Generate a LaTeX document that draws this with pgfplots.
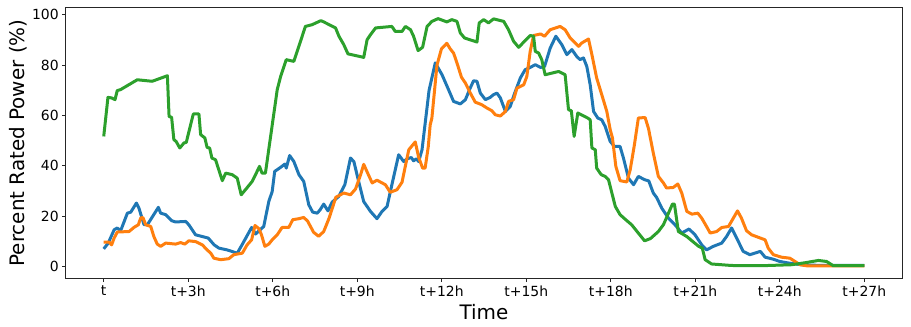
\documentclass[border=0pt]{standalone}
\usepackage{fontspec}
\setmainfont{DejaVu Sans}
\usepackage{pgfplots}
\pgfplotsset{compat=1.18}
\definecolor{tabblue}{HTML}{1F77B4}
\definecolor{taborange}{HTML}{FF7F0E}
\definecolor{tabgreen}{HTML}{2CA02C}
\begin{document}
\begin{tikzpicture}
\begin{axis}[
  scale only axis, width=836.6bp, height=271.4bp,
  xmin=-1.35, xmax=28.35, ymin=-4.85, ymax=103,
  xtick={0,3,6,9,12,15,18,21,24,27},
  xticklabels={t,t+3h,t+6h,t+9h,t+12h,t+15h,t+18h,t+21h,t+24h,t+27h},
  ytick={0,20,40,60,80,100},
  tick pos=left, tick align=outside, major tick length=3.5bp,
  /pgf/number format/assume math mode=true,
  tick label style={font=\fontsize{14}{16}\selectfont, text=black},
  label style={font=\fontsize{20}{24}\selectfont},
  xlabel={Time}, ylabel={Percent Rated Power (\%)},
  xlabel style={at={(axis description cs:0.5,-0.123)},anchor=center},
  ylabel style={at={(axis description cs:-0.057,0.5)},anchor=center},
  axis line style={black!85, line width=0.8bp},
  every tick/.style={black!85, line width=0.8bp},
  every axis plot/.append style={line width=3bp, mark=none, line join=round},
]
\addplot[tabblue] coordinates {
(0,7.0)(0.16,9.3)(0.37,14.6)(0.48,15.3)(0.60,14.2)(0.84,21.2)(0.96,21.6)(1.16,25.2)(1.25,23.2)(1.43,16.6)(1.55,16.6)(1.94,23.5)(2.02,21.2)(2.20,20.6)(2.41,18.2)(2.55,17.7)(2.91,17.9)(3.02,16.6)(3.26,12.6)(3.50,11.9)(3.71,11.3)(3.92,8.6)(4.09,7.3)(4.38,6.6)(4.74,5.3)(4.91,8.6)(5.25,15.5)(5.39,12.9)(5.68,15.9)(5.86,25.8)(5.98,29.8)(6.07,37.8)(6.28,39.4)(6.43,40.7)(6.48,39.1)(6.60,44.1)(6.75,41.7)(6.93,36.5)(7.10,33.8)(7.28,24.5)(7.42,21.6)(7.58,21.2)(7.68,22.5)(7.81,24.8)(7.96,22.1)(8.11,25.6)(8.34,27.8)(8.56,32.5)(8.76,43.1)(8.88,41.7)(9.05,33.8)(9.23,25.8)(9.47,21.9)(9.70,19.0)(9.88,21.9)(10.06,23.9)(10.23,32.5)(10.47,44.4)(10.65,41.7)(10.77,42.8)(10.92,43.3)(11.00,42.0)(11.10,42.8)(11.18,41.7)(11.30,46.4)(11.55,70.0)(11.77,80.9)(12.01,76.2)(12.24,70.3)(12.42,65.6)(12.66,64.6)(12.84,66.3)(13.01,70.9)(13.13,73.8)(13.25,73.6)(13.37,68.9)(13.55,66.3)(13.72,67.2)(13.84,68.3)(13.96,68.9)(14.08,67.0)(14.26,61.6)(14.43,63.6)(14.59,68.9)(14.79,74.9)(14.96,78.2)(15.14,79.1)(15.32,80.2)(15.51,79.1)(15.65,79.5)(15.85,86.8)(16.05,91.5)(16.26,88.2)(16.44,84.2)(16.62,86.2)(16.79,83.5)(16.91,82.2)(17.03,82.9)(17.15,79.5)(17.27,72.2)(17.39,61.6)(17.54,59.0)(17.68,58.3)(17.80,55.7)(17.98,49.7)(18.13,47.7)(18.33,47.7)(18.45,43.1)(18.63,35.1)(18.81,32.5)(18.98,35.8)(19.20,34.5)(19.35,34.0)(19.51,29.2)(19.63,27.4)(19.81,23.2)(20.05,19.2)(20.28,16.6)(20.52,13.3)(20.78,14.9)(20.99,12.6)(21.23,8.6)(21.40,6.6)(21.64,8.0)(21.94,9.3)(22.11,11.9)(22.29,15.3)(22.47,11.3)(22.70,6.0)(22.94,4.7)(23.31,6.0)(23.48,3.7)(23.77,2.9)(24.0,2.0)(24.30,1.4)(24.77,0.7)(25.5,0.4)(27,0.4)
};
\addplot[taborange] coordinates {
(0,9.7)(0.19,9.7)(0.28,8.6)(0.37,11.3)(0.48,13.7)(0.90,13.9)(1.07,15.5)(1.23,16.6)(1.31,19.2)(1.39,19.5)(1.49,16.6)(1.67,15.9)(1.78,11.9)(1.90,8.9)(2.02,8.0)(2.20,9.3)(2.55,8.9)(2.73,9.5)(2.88,8.9)(3.02,10.2)(3.26,9.9)(3.50,8.6)(3.67,6.6)(3.80,5.3)(3.91,3.3)(4.15,2.7)(4.44,3.1)(4.62,4.7)(4.92,5.3)(5.09,8.6)(5.25,10.6)(5.37,16.3)(5.51,15.0)(5.60,12.6)(5.72,8.0)(5.86,8.9)(5.98,10.6)(6.16,12.6)(6.33,15.5)(6.57,15.5)(6.71,18.6)(6.93,19.0)(7.10,19.5)(7.24,18.0)(7.45,13.6)(7.63,12.0)(7.81,13.9)(8.0,19.2)(8.24,27.5)(8.52,29.2)(8.76,28.5)(8.94,30.8)(9.12,36.5)(9.23,40.6)(9.37,37.1)(9.53,33.2)(9.70,34.3)(10.0,32.5)(10.17,29.5)(10.41,30.5)(10.59,33.5)(10.71,40.0)(10.83,46.4)(11.06,49.5)(11.18,43.4)(11.32,39.1)(11.41,39.1)(11.52,47.5)(11.59,56.3)(11.65,59.0)(11.83,80.0)(11.99,86.5)(12.18,88.7)(12.30,86.5)(12.42,84.8)(12.54,80.9)(12.70,75.2)(12.84,72.9)(13.01,69.0)(13.19,65.3)(13.42,64.3)(13.60,63.0)(13.78,61.9)(13.90,60.3)(14.08,59.8)(14.26,61.6)(14.37,65.6)(14.55,66.3)(14.67,70.9)(14.91,72.2)(15.02,75.5)(15.14,85.5)(15.26,91.8)(15.51,92.4)(15.65,91.5)(15.85,94.1)(16.20,95.4)(16.38,94.1)(16.56,90.8)(16.86,87.5)(16.97,88.8)(17.21,90.4)(17.33,84.2)(17.50,74.9)(17.68,68.3)(17.86,61.6)(17.98,54.4)(18.06,51.1)(18.18,39.8)(18.33,34.1)(18.57,33.6)(18.69,38.4)(18.84,48.4)(18.98,59.0)(19.22,59.2)(19.34,54.8)(19.51,45.1)(19.69,35.8)(19.87,33.2)(19.98,31.2)(20.22,31.4)(20.38,32.8)(20.52,29.2)(20.70,21.9)(20.88,20.8)(21.09,21.2)(21.23,19.2)(21.40,15.9)(21.53,13.3)(21.76,13.9)(21.94,15.5)(22.18,15.9)(22.35,19.2)(22.50,22.1)(22.64,19.2)(22.82,14.2)(23.00,12.6)(23.31,11.3)(23.48,10.6)(23.59,7.3)(23.77,4.7)(24.06,3.7)(24.36,3.3)(24.54,2.0)(24.72,0.7)(25.0,0.2)(27,0.2)
};
\addplot[tabgreen] coordinates {
(0,51.7)(0.15,67.2)(0.28,67.0)(0.40,66.3)(0.48,69.9)(0.60,70.3)(1.19,74.2)(1.72,73.6)(2.26,75.8)(2.32,59.6)(2.41,59.3)(2.49,50.4)(2.57,49.7)(2.70,47.1)(2.85,49.1)(2.93,49.3)(3.18,60.6)(3.38,60.6)(3.44,52.4)(3.59,51.1)(3.67,47.3)(3.76,47.1)(3.84,43.1)(3.97,42.4)(4.21,34.1)(4.33,37.1)(4.56,36.5)(4.74,35.1)(4.88,28.5)(5.03,30.5)(5.27,33.8)(5.39,36.5)(5.53,39.8)(5.62,37.1)(5.74,37.1)(6.16,70.3)(6.28,75.5)(6.48,82.2)(6.75,81.5)(7.16,95.4)(7.40,96.1)(7.71,97.7)(7.81,97.2)(8.23,94.8)(8.35,91.5)(8.52,88.2)(8.67,84.5)(9.23,83.1)(9.35,90.1)(9.47,92.1)(9.65,94.8)(10.23,95.4)(10.35,93.4)(10.59,93.4)(10.71,95.4)(10.89,94.1)(11.00,91.5)(11.16,85.8)(11.32,87.1)(11.48,95.4)(11.65,97.4)(11.87,98.5)(12.18,97.2)(12.36,98.1)(12.54,97.4)(12.66,92.8)(12.81,90.8)(13.25,89.2)(13.33,96.8)(13.49,98.1)(13.66,96.8)(13.84,98.4)(14.20,97.4)(14.37,94.1)(14.55,89.5)(14.73,87.1)(15.14,91.8)(15.26,91.5)(15.32,85.5)(15.44,84.8)(15.55,82.2)(15.67,76.2)(16.15,77.5)(16.38,76.2)(16.50,62.3)(16.60,61.9)(16.70,51.7)(16.83,61.0)(17.18,59.0)(17.27,58.3)(17.33,47.1)(17.45,46.4)(17.50,39.1)(17.66,36.5)(17.80,35.8)(17.92,34.5)(18.16,23.9)(18.33,20.6)(18.53,18.6)(18.74,16.6)(19.20,10.2)(19.41,11.1)(19.69,13.9)(19.87,16.6)(20.19,24.8)(20.26,24.8)(20.40,13.9)(20.70,11.9)(21.12,8.0)(21.25,7.3)(21.35,2.7)(21.58,1.0)(22.29,0.4)(23.31,0.3)(24.42,0.7)(24.9,1.5)(25.37,2.4)(25.66,2.0)(25.90,0.3)(27,0.3)
};
\end{axis}
\pgfresetboundingbox
\path[use as bounding box] ([shift={(-65.7bp,-48.3bp)}]current axis.south west) rectangle ([shift={(8.7bp,7.3bp)}]current axis.north east);
\end{tikzpicture}
\end{document}
